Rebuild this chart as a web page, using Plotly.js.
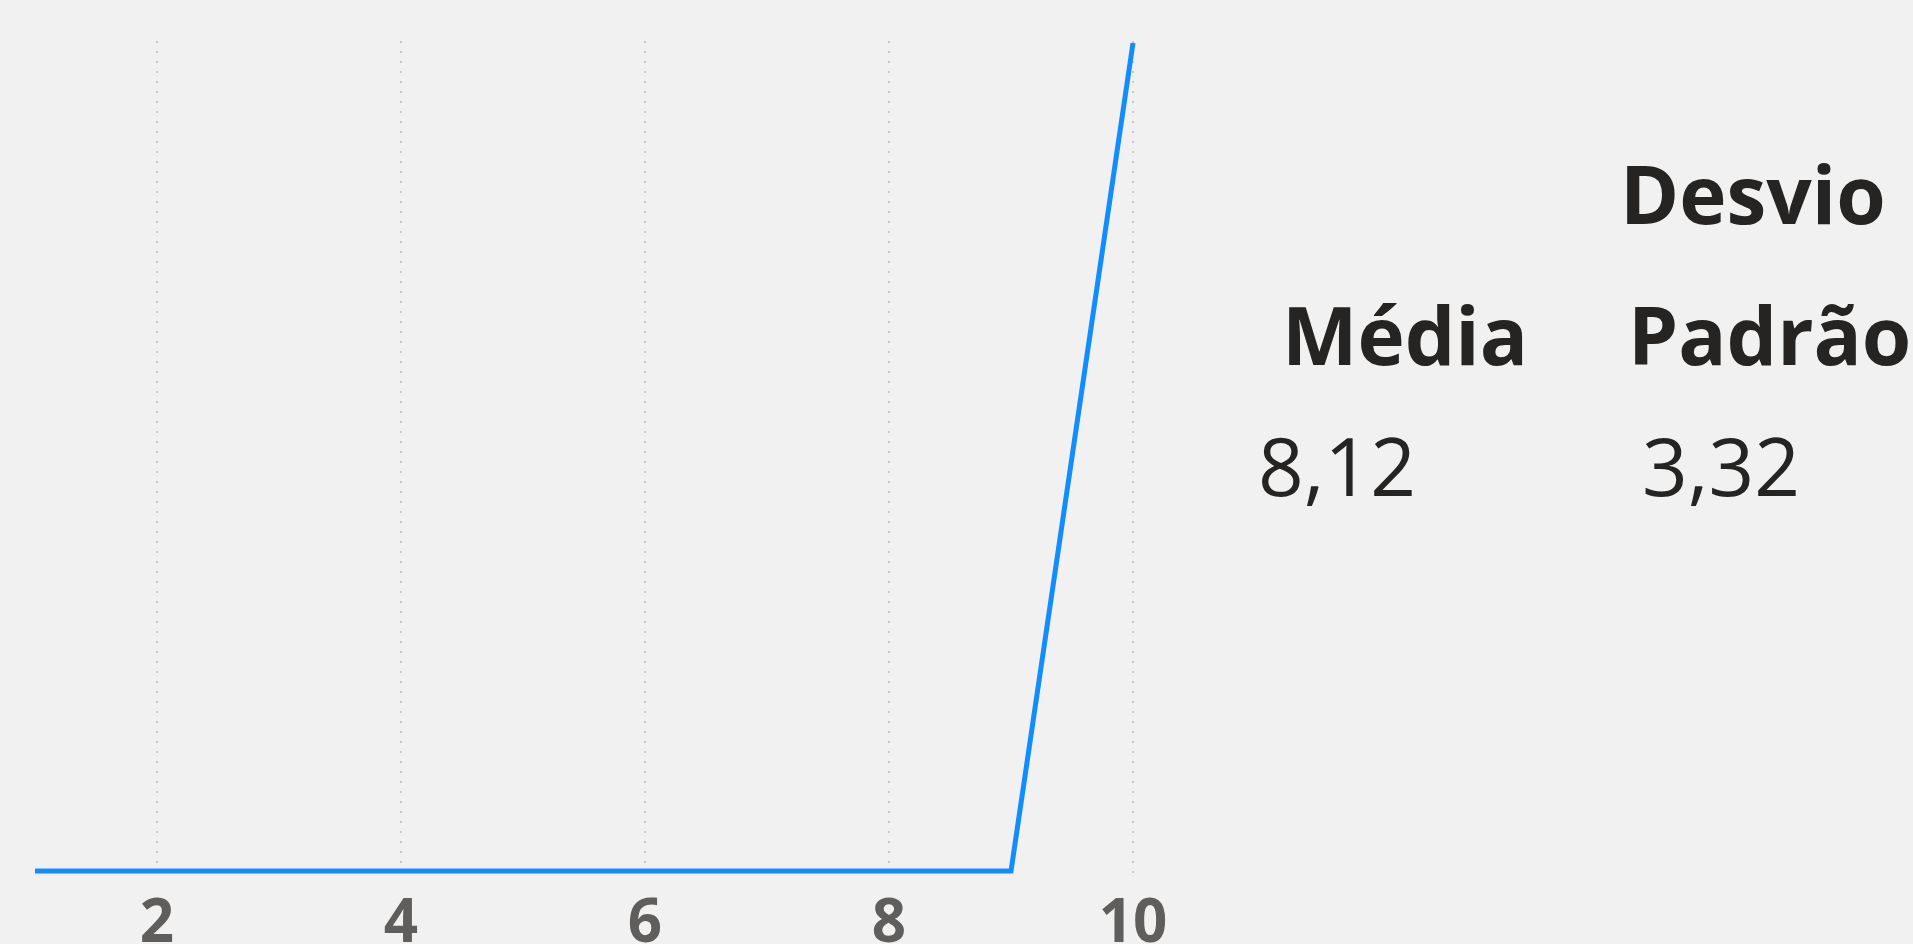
<!DOCTYPE html>
<html>
<head>
<meta charset="utf-8">
<script src="https://cdn.plot.ly/plotly-3.0.1.min.js"></script>
<style>
html,body{margin:0;padding:0;background:#F1F1F1;}
#chart{width:1913px;height:944px;}
</style>
</head>
<body>
<div id="chart"></div>
<script>
// Data
const xVals = [1, 2, 3, 4, 5, 6, 7, 8, 9, 10];
const yVals = [0, 0, 0, 0, 0, 0, 0, 0, 0, 1];
const tickVals = [2, 4, 6, 8, 10];
const tickText = ["2", "4", "6", "8", "10"];
const statTitles = ["Média", "Desvio Padrão"];
const statValues = ["8,12", "3,32"];

(function () {
const W = 1913, H = 944;
const px = v => v / W;
const py = v => 1 - v / H;

const trace = {
  x: xVals, y: yVals, type: 'scatter', mode: 'lines',
  line: {color: '#118DFF', width: 5},
  hoverinfo: 'skip'
};

const headFont = {family: 'Open Sans', size: 80, color: '#252423', weight: 700};
const valFont = {family: 'Open Sans', size: 80, color: '#252423', weight: 400};
const desvioParts = statTitles[1].split(' ');

const annotations = [
  {text: statTitles[0], x: px(1280), y: py(333), xanchor: 'left', yanchor: 'middle', font: headFont},
  {text: desvioParts[0], x: px(1618), y: py(192), xanchor: 'left', yanchor: 'middle', font: headFont},
  {text: desvioParts[1], x: px(1626), y: py(333), xanchor: 'left', yanchor: 'middle', font: headFont},
  {text: statValues[0], x: px(1256), y: py(464), xanchor: 'left', yanchor: 'middle', font: valFont},
  {text: statValues[1], x: px(1640), y: py(464), xanchor: 'left', yanchor: 'middle', font: valFont}
].map(a => Object.assign({xref: 'paper', yref: 'paper', showarrow: false}, a));

const pLeft = 20, pRight = 1150, pTop = 41, pBottom = 874;
const pxPerX = 122;
const x1px = 35;
const layout = {
  width: W, height: H,
  paper_bgcolor: '#F1F1F1', plot_bgcolor: '#F1F1F1',
  margin: {l: 0, r: 0, t: 0, b: 0},
  showlegend: false,
  xaxis: {
    domain: [pLeft / W, pRight / W],
    range: [1 - (x1px - pLeft) / pxPerX, 1 + (pRight - x1px) / pxPerX],
    tickvals: tickVals, ticktext: tickText,
    showgrid: true, gridcolor: '#C8C8C8', gridwidth: 2, griddash: '2px,8px',
    zeroline: false, showline: false, ticks: '',
    ticklabelstandoff: 7,
    tickfont: {family: 'Open Sans', size: 60, color: '#605E5C', weight: 700},
    automargin: false, fixedrange: true
  },
  yaxis: {
    domain: [1 - pBottom / H, 1 - pTop / H],
    range: [-3 / 828, 1 + 2 / 828],
    visible: false, showgrid: false, zeroline: false, fixedrange: true
  },
  annotations: annotations
};

Plotly.newPlot('chart', [trace], layout, {displayModeBar: false, staticPlot: true});
})();
</script>
</body>
</html>
